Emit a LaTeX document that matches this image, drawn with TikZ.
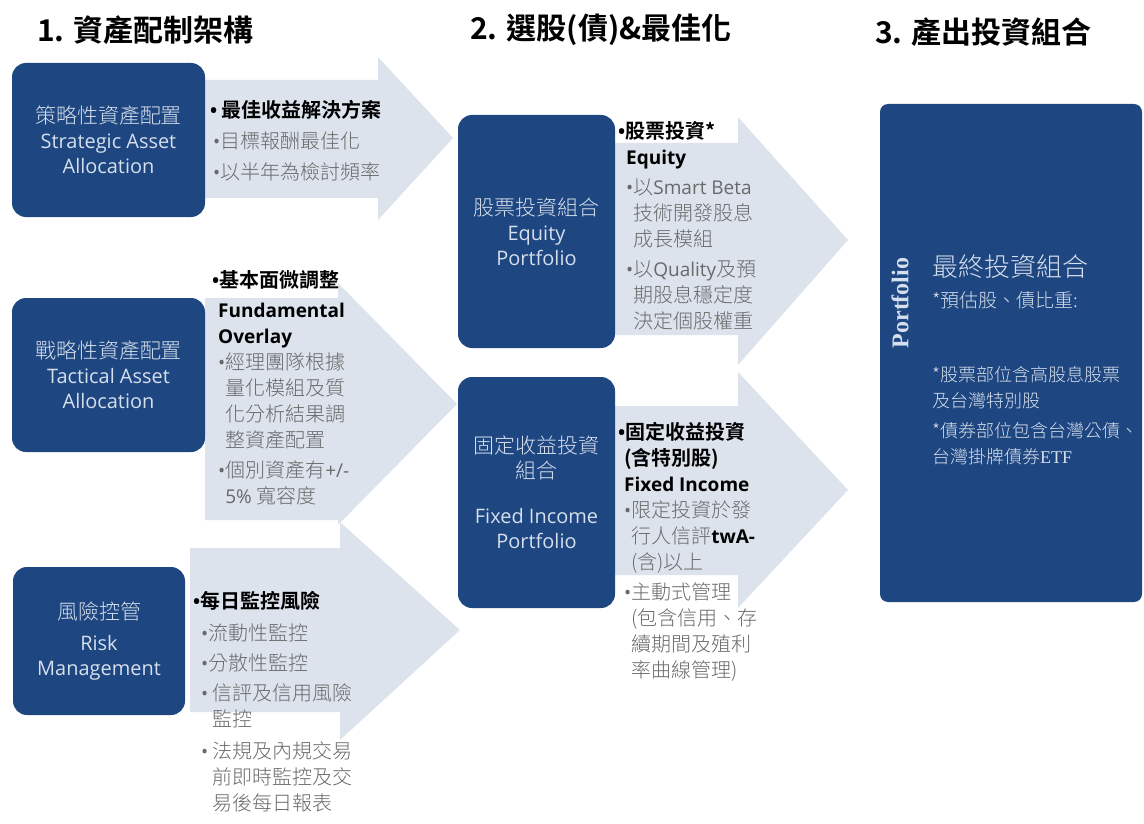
\documentclass[tikz,border=0pt]{standalone}
\usepackage{fontspec}
\setmainfont{Noto Sans CJK TC}[BoldFont={Noto Sans CJK TC Bold}]
\newfontfamily\thin{Noto Sans CJK TC Light}
\newfontfamily\lat{Open Sans}[Scale=0.95]
\newfontfamily\rom{Liberation Serif}
\usepackage{xcolor}
\usepackage{tikz}
\usetikzlibrary{positioning}
\definecolor{navy}{RGB}{30,70,128}
\definecolor{paleblue}{RGB}{220,227,237}
\definecolor{boxtxt}{RGB}{214,223,237}
\definecolor{greytxt}{RGB}{105,105,105}
\newcommand{\bul}{{\lat •}}
\newcommand{\ind}{\hphantom{\bul}}
\newcommand{\hd}[1]{{\color{black}\bfseries #1}}

\begin{document}
\begin{tikzpicture}[x=1pt, y=-1pt,
bluebox/.style={rectangle, rounded corners=14pt, fill=navy, text=boxtxt, align=center, inner sep=0pt, font=\thin\fontsize{21}{25}\selectfont},
blockarrow/.style={fill=paleblue},
title/.style={anchor=west, inner sep=0pt, font=\fontsize{30}{32}\selectfont\bfseries},
itemlist/.style={anchor=north west, align=left, inner sep=0pt, text=greytxt, font=\thin\fontsize{20}{26}\selectfont}]
\useasboundingbox (0,0) rectangle (1144,824);
\node[title] (h1) at (37,30) {1. 資產配制架構};
\node[title] (h2) at (470,30) {2. 選股(債)\&最佳化};
\node[title] (h3) at (875,32) {3. 產出投資組合};
% block arrows first, boxes go on top
\fill[blockarrow] (200,80) -- (378,80) -- (378,57) -- (453,138) -- (378,220) -- (378,198) -- (200,198) -- cycle;
\fill[blockarrow] (205,298) -- (338,298) -- (338,283) -- (457,404) -- (338,525) -- (338,520) -- (205,520) -- cycle;
\fill[blockarrow] (190,548) -- (340,548) -- (340,522) -- (460,630) -- (340,740) -- (340,712) -- (190,712) -- cycle;
\fill[blockarrow] (610,143) -- (738,143) -- (738,117) -- (848,240) -- (738,365) -- (738,335) -- (610,335) -- cycle;
\fill[blockarrow] (610,406) -- (738,406) -- (738,372) -- (848,490) -- (738,608) -- (738,575) -- (610,575) -- cycle;
\node[bluebox, minimum width=193pt, minimum height=154pt] (1) at (108.5,140) {策略性資產配置\\{\lat Strategic Asset}\\{\lat Allocation}};
\node[bluebox, minimum width=193pt, minimum height=154pt] (2) at (108.5,375) {戰略性資產配置\\{\lat Tactical Asset}\\{\lat Allocation}};
\node[bluebox, minimum width=172pt, minimum height=148pt] (3) at (99,641) {風險控管\\[6pt]{\lat Risk}\\{\lat Management}};
\node[bluebox, minimum width=157pt, minimum height=233pt] (4) at (536.5,231.5) {股票投資組合\\{\lat Equity}\\{\lat Portfolio}};
\node[bluebox, minimum width=157pt, minimum height=231pt] (5) at (536.5,492.5) {固定收益投資\\組合\\[20pt]{\lat Fixed Income}\\{\lat Portfolio}};
\node[bluebox, rounded corners=8pt, minimum width=262pt, minimum height=498pt] (6) at (1011,353) {};
% texts on the arrows
\node[itemlist] (t1) at (210,100) {\hd{\bul\ 最佳收益解決方案}\\[5pt]
\hspace*{3pt}\bul 目標報酬最佳化\\[5pt]
\hspace*{3pt}\bul 以半年為檢討頻率};
\node[itemlist] (t2) at (212,270) {\hd{\bul 基本面微調整}\\[4pt]
\hspace*{6pt}\hd{\lat Fundamental}\\
\hspace*{6pt}\hd{\lat Overlay}\\
\hspace*{6pt}\bul 經理團隊根據\\
\hspace*{6pt}\ind 量化模組及質\\
\hspace*{6pt}\ind 化分析結果調\\
\hspace*{6pt}\ind 整資產配置\\[4pt]
\hspace*{6pt}\bul 個別資產有{\lat +/-}\\
\hspace*{6pt}\ind{\lat 5\%} 寬容度};
\node[itemlist] (t3) at (193,591) {\hd{\bul 每日監控風險}\\[6pt]
\hspace*{8pt}\bul 流動性監控\\[4pt]
\hspace*{8pt}\bul 分散性監控\\[4pt]
\hspace*{8pt}\bul\ 信評及信用風險\\
\hspace*{8pt}\ind\ 監控\\[6pt]
\hspace*{8pt}\bul\ 法規及內規交易\\
\hspace*{8pt}\ind\ 前即時監控及交\\
\hspace*{8pt}\ind\ 易後每日報表};
\node[itemlist] (t4) at (618,121) {\hd{\bul 股票投資*}\\
\hspace*{8pt}\hd{\lat Equity}\\[4pt]
\hspace*{8pt}\bul 以{\lat Smart Beta}\\
\hspace*{8pt}\ind 技術開發股息\\
\hspace*{8pt}\ind 成長模組\\[4pt]
\hspace*{8pt}\bul 以{\lat Quality}及預\\
\hspace*{8pt}\ind 期股息穩定度\\
\hspace*{8pt}\ind 決定個股權重};
\node[itemlist] (t5) at (618,422) {\hd{\bul 固定收益投資}\\
\hspace*{6pt}\hd{(含特別股)}\\
\hspace*{6pt}\hd{\lat Fixed Income}\\
\hspace*{6pt}\bul 限定投資於發\\
\hspace*{6pt}\ind 行人信評\hd{\lat twA-}\\
\hspace*{6pt}\ind(含)以上\\[4pt]
\hspace*{6pt}\bul 主動式管理\\
\hspace*{6pt}\ind(包含信用、存\\
\hspace*{6pt}\ind 續期間及殖利\\
\hspace*{6pt}\ind 率曲線管理)};
% inside the portfolio box
\node[rotate=90, text=boxtxt, font=\rom\bfseries\fontsize{24}{24}\selectfont] (p0) at (900,303) {Portfolio};
\node[anchor=west, inner sep=0pt, text=boxtxt, font=\thin\fontsize{26}{30}\selectfont] (p1) at (932,267) {最終投資組合};
\node[anchor=west, inner sep=0pt, text=boxtxt, font=\thin\fontsize{19}{24}\selectfont] (p2) at (932,300) {*預估股、債比重:};
\node[anchor=north west, align=left, inner sep=0pt, text=boxtxt, font=\thin\fontsize{18}{26}\selectfont] (p3) at (932,366) {*股票部位含高股息股票\\及台灣特別股\\[4pt]*債券部位包含台灣公債、\\台灣掛牌債券{\rom ETF}};
\end{tikzpicture}
\end{document}
